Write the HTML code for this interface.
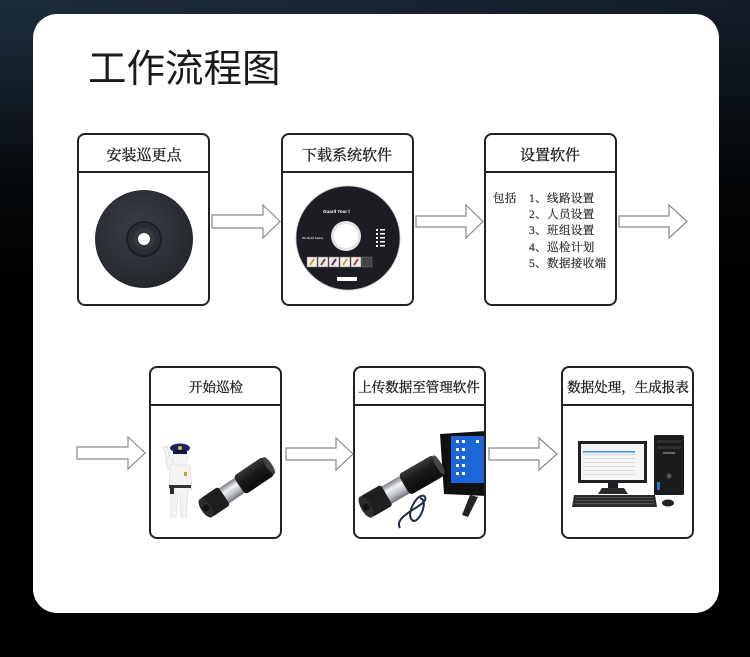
<!DOCTYPE html>
<html><head><meta charset="utf-8"><style>
html,body{margin:0;padding:0;}
body{width:750px;height:657px;overflow:hidden;background:#000;}
svg{display:block;}
</style></head><body>
<svg width="750" height="657" viewBox="0 0 750 657" xmlns="http://www.w3.org/2000/svg">
<defs>
<linearGradient id="bg" x1="0" y1="0" x2="0" y2="1">
<stop offset="0" stop-color="#1e2c3c"/>
<stop offset="0.12" stop-color="#142029"/>
<stop offset="0.28" stop-color="#05080b"/>
<stop offset="0.45" stop-color="#000"/>
<stop offset="1" stop-color="#000"/>
</linearGradient>
<linearGradient id="bgh" x1="0" y1="0" x2="1" y2="0">
<stop offset="0" stop-color="#000" stop-opacity="0"/>
<stop offset="1" stop-color="#000" stop-opacity="0.35"/>
</linearGradient>
<linearGradient id="silver" x1="0" y1="0" x2="0" y2="1">
<stop offset="0" stop-color="#7a7d82"/>
<stop offset="0.35" stop-color="#f2f3f5"/>
<stop offset="0.7" stop-color="#b9bcc1"/>
<stop offset="1" stop-color="#6b6e73"/>
</linearGradient>
<linearGradient id="rubber" x1="0" y1="0" x2="0" y2="1">
<stop offset="0" stop-color="#3a3a3c"/>
<stop offset="0.4" stop-color="#1a1a1b"/>
<stop offset="1" stop-color="#0c0c0d"/>
</linearGradient>
<radialGradient id="disc" cx="0.45" cy="0.4" r="0.6">
<stop offset="0" stop-color="#3a3d44"/>
<stop offset="1" stop-color="#25282d"/>
</radialGradient>
<clipPath id="b5"><rect x="355" y="406" width="129" height="131"/></clipPath>
</defs>
<rect x="0" y="0" width="750" height="657" fill="url(#bg)"/>
<rect x="0" y="0" width="750" height="657" fill="url(#bgh)"/>
<!-- card -->
<rect x="33" y="14" width="686" height="599" rx="24" ry="24" fill="#fff"/>
<text x="88" y="82" font-family="'Liberation Sans','Noto Sans CJK SC',sans-serif" font-size="38.5" fill="#1a1a1a">工作流程图</text>

<g fill="#fff" stroke="#222" stroke-width="2">
<rect x="78" y="134" width="131" height="171" rx="7"/>
<rect x="282" y="134" width="131" height="171" rx="7"/>
<rect x="485" y="134" width="131" height="171" rx="7"/>
<rect x="150" y="367" width="131" height="171" rx="7"/>
<rect x="354" y="367" width="131" height="171" rx="7"/>
<rect x="562" y="367" width="131" height="171" rx="7"/>
</g>
<g stroke="#222" stroke-width="2">
<line x1="78" y1="172" x2="209" y2="172"/>
<line x1="282" y1="172" x2="413" y2="172"/>
<line x1="485" y1="172" x2="616" y2="172"/>
<line x1="150" y1="405" x2="281" y2="405"/>
<line x1="354" y1="405" x2="485" y2="405"/>
<line x1="562" y1="405" x2="693" y2="405"/>
</g>

<g font-family="'Liberation Serif','Noto Serif CJK SC',serif" fill="#222" stroke="#222" stroke-width="0.35" text-anchor="middle">
<text x="144" y="160" font-size="15">安装巡更点</text>
<text x="347" y="160" font-size="15">下载系统软件</text>
<text x="550" y="160" font-size="15">设置软件</text>
<text x="216" y="392" font-size="13.5">开始巡检</text>
<text x="419" y="392" font-size="13.5">上传数据至管理软件</text>
<text x="628" y="392" font-size="13.5">数据处理，生成报表</text>
</g>
<g font-family="'Liberation Serif','Noto Serif CJK SC',serif" fill="#333" stroke="#333" stroke-width="0.25" font-size="11.5" letter-spacing="0.4">
<text x="493" y="202">包括</text>
<text x="529" y="202">1、线路设置</text>
<text x="529" y="218">2、人员设置</text>
<text x="529" y="234">3、班组设置</text>
<text x="529" y="251">4、巡检计划</text>
<text x="529" y="267">5、数据接收端</text>
</g>

<!-- arrows -->
<g fill="#fff" stroke="#8a8a8a" stroke-width="1.2">
<polygon points="212,215 263,215 263,205 280,221.5 263,238 263,228 212,228"/>
<polygon points="416,216 466,216 466,205 483,221.5 466,238 466,227 416,227"/>
<polygon points="619,216 669,216 669,205 687,221.5 669,238 669,227 619,227"/>
<polygon points="77,447 128,447 128,437 145,453 128,469 128,459 77,459"/>
<polygon points="286,448 336,448 336,438 353,454 336,470 336,460 286,460"/>
<polygon points="489,448 539,448 539,438 557,454 539,470 539,460 489,460"/>
</g>

<!-- box1 disc -->
<circle cx="144" cy="239" r="49" fill="url(#disc)"/>
<circle cx="144" cy="239" r="17" fill="#2a2d33" stroke="#1b1d21" stroke-width="2"/>
<circle cx="144" cy="239" r="11" fill="#34373e"/>
<circle cx="144" cy="239" r="6" fill="#fff"/>

<!-- box2 CD -->
<circle cx="348" cy="238" r="52" fill="#1c1d22"/>
<circle cx="348" cy="238" r="52" fill="none" stroke="#bbb" stroke-width="0.8"/>
<circle cx="346" cy="236" r="15" fill="#e4e4e4"/>
<circle cx="346" cy="236" r="12" fill="#fff"/>
<text x="323" y="213" font-family="'Liberation Sans',sans-serif" font-size="4.5" font-weight="bold" fill="#fff">Guard Tour Ⅰ</text>
<text x="302" y="239" font-family="'Liberation Sans',sans-serif" font-size="3" fill="#fff">We Build Safety</text>
<g fill="#fff"><rect x="376" y="229" width="2" height="2"/><rect x="376" y="233" width="2" height="2"/><rect x="376" y="237" width="2" height="2"/><rect x="376" y="241" width="2" height="2"/><rect x="376" y="245" width="2" height="2"/>
<rect x="380" y="229" width="5" height="1.5"/><rect x="380" y="233" width="5" height="1.5"/><rect x="380" y="237" width="5" height="1.5"/><rect x="380" y="241" width="5" height="1.5"/><rect x="380" y="245" width="5" height="1.5"/></g>
<g stroke="#777" stroke-width="0.5">
<rect x="307" y="257" width="10" height="10" fill="#f4f1ea"/>
<rect x="318" y="257" width="10" height="10" fill="#ece8e6"/>
<rect x="329" y="257" width="10" height="10" fill="#efe9ee"/>
<rect x="340" y="257" width="10" height="10" fill="#f2efe6"/>
<rect x="351" y="257" width="10" height="10" fill="#eceaea"/>
<rect x="362" y="257" width="10" height="10" fill="#444"/>
</g>
<g stroke-width="2"><line x1="310" y1="265" x2="314" y2="259" stroke="#d9a020"/><line x1="321" y1="265" x2="325" y2="259" stroke="#8a4040"/><line x1="332" y1="265" x2="336" y2="259" stroke="#702050"/><line x1="343" y1="265" x2="347" y2="259" stroke="#c9a060"/><line x1="354" y1="265" x2="358" y2="259" stroke="#a04040"/></g>
<rect x="337" y="277" width="20" height="4" fill="#fff"/>

<!-- box4 police -->
<g>
<path d="M168,470 L165,452 L163,448 L167,446 L170,458 L174,462 Z" fill="#f2f2f2" stroke="#ccc" stroke-width="0.5"/>
<circle cx="180" cy="458" r="8" fill="#f4f4f4" stroke="#ddd" stroke-width="0.5"/>
<ellipse cx="180" cy="448" rx="10" ry="4.5" fill="#1e2560"/>
<rect x="173" y="450" width="14" height="4" fill="#11163d"/>
<circle cx="180" cy="448" r="2" fill="#e8c040"/>
<path d="M170,465 L190,465 L192,490 L188,490 L186,517 L181,517 L180,495 L178,495 L176,517 L171,517 L171,490 L169,490 Z" fill="#f3f3f3" stroke="#d6d6d6" stroke-width="0.6"/>
<rect x="169" y="485" width="22" height="3" fill="#333"/>
<rect x="170" y="486" width="4" height="8" fill="#2a2a2a"/>
<rect x="184" y="472" width="3" height="4" fill="#d4a020"/>
</g>
<g transform="translate(206,508) rotate(-34)">
<rect x="0" y="-11" width="22" height="22" rx="3" fill="#1e1e1f"/>
<ellipse cx="0" cy="0" rx="5" ry="11" fill="#2c2c2d"/>
<rect x="-3" y="-3" width="6" height="6" fill="#111"/>
<rect x="22" y="-9" width="18" height="18" fill="url(#silver)"/>
<rect x="40" y="-11" width="36" height="22" rx="4" fill="url(#rubber)"/>
<ellipse cx="76" cy="0" rx="3" ry="10" fill="#444"/>
</g>

<!-- box5 -->
<g clip-path="url(#b5)">
<polygon points="440,434 486,431 486,496 444,494" fill="#101012"/>
<rect x="451" y="436" width="34" height="47" fill="#1d66d6"/>
<g fill="#fff">
<rect x="456" y="440" width="3" height="3"/><rect x="462" y="440" width="3" height="3"/><rect x="476" y="440" width="3" height="3"/>
<rect x="456" y="448" width="3" height="3"/><rect x="462" y="448" width="3" height="3"/>
<rect x="456" y="456" width="3" height="3"/><rect x="462" y="456" width="3" height="3"/>
<rect x="456" y="464" width="3" height="3"/><rect x="462" y="464" width="3" height="3"/>
<rect x="456" y="472" width="3" height="3"/><rect x="462" y="472" width="3" height="3"/>
</g>
<path d="M470,495 L462,515 L468,517 L478,497 Z" fill="#222"/>
<path d="M400,528 C392,515 430,505 425,497 C420,490 405,512 412,520 C418,526 430,500 420,498" fill="none" stroke="#1f2a44" stroke-width="2"/>
</g>
<g transform="translate(366,507) rotate(-30)">
<rect x="0" y="-12" width="24" height="24" rx="3" fill="#1e1e1f"/>
<ellipse cx="0" cy="0" rx="5" ry="12" fill="#2c2c2d"/>
<rect x="-3" y="-3" width="6" height="6" fill="#111"/>
<rect x="24" y="-10" width="20" height="20" fill="url(#silver)"/>
<rect x="44" y="-12" width="40" height="24" rx="4" fill="url(#rubber)"/>
<ellipse cx="84" cy="0" rx="3" ry="11" fill="#444"/>
</g>

<!-- box6 computer -->
<g>
<rect x="578" y="441" width="69" height="42" fill="#202124"/>
<rect x="581" y="444" width="63" height="36" fill="#f4f4f4"/>
<rect x="583" y="451" width="52" height="1.5" fill="#3d8fe0"/>
<g fill="#ccc"><rect x="583" y="454" width="52" height="0.6"/><rect x="583" y="458" width="52" height="0.6"/><rect x="583" y="462" width="52" height="0.6"/><rect x="583" y="466" width="52" height="0.6"/><rect x="583" y="470" width="52" height="0.6"/><rect x="583" y="474" width="52" height="0.6"/></g>
<rect x="608" y="483" width="10" height="6" fill="#1d1d1f"/>
<path d="M598,494 L628,494 L624,488 L602,488 Z" fill="#2a2a2c"/>
<rect x="654" y="435" width="30" height="60" rx="1.5" fill="#1b1b1d"/>
<rect x="657" y="440" width="24" height="3" fill="#2e2e31"/>
<rect x="657" y="446" width="24" height="3" fill="#2e2e31"/>
<rect x="663" y="452" width="12" height="2" fill="#666"/>
<circle cx="669" cy="476" r="2.5" fill="#555"/>
<rect x="657" y="482" width="3" height="8" fill="#2f6fd0"/>
<polygon points="574,495 655,495 657,507 572,507" fill="#2b2b2d"/>
<g fill="#555"><rect x="576" y="497" width="77" height="1"/><rect x="575" y="500" width="79" height="1"/><rect x="575" y="503" width="79" height="1"/></g>
<ellipse cx="668" cy="503" rx="6" ry="3.5" fill="#222"/>
</g>
</svg>
</body></html>
